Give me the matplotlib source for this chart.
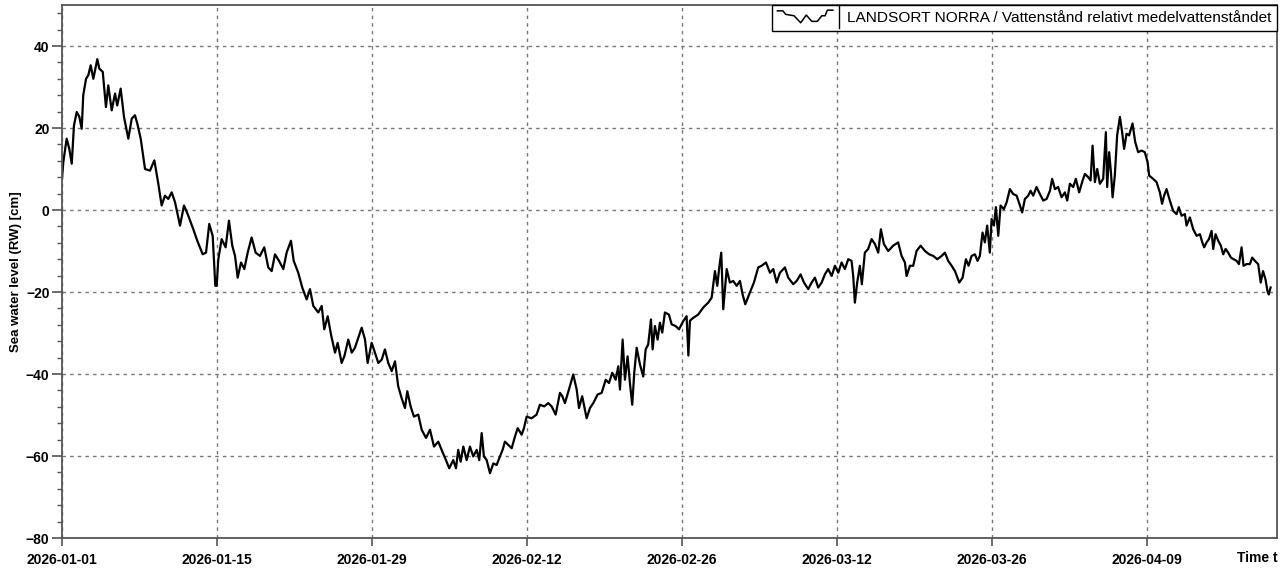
import numpy as np
import pandas as pd
import matplotlib
matplotlib.use("Agg")
import matplotlib.pyplot as plt
import matplotlib.dates as mdates
from matplotlib.lines import Line2D
from matplotlib.legend_handler import HandlerBase

plt.rcParams['font.family'] = ['Liberation Sans', 'DejaVu Sans']

# days since 2026-01-01 00:00 and sea level [cm]
day_offset = [
    0.00, 0.12, 0.42, 0.66, 0.88, 1.08, 1.33, 1.56, 1.78, 1.92,
    2.17, 2.38, 2.59, 2.83, 3.19, 3.37, 3.68, 3.97, 4.18, 4.49,
    4.79, 4.99, 5.30, 5.60, 5.99, 6.30, 6.59, 6.80, 7.11, 7.50,
    7.95, 8.34, 8.70, 9.00, 9.30, 9.60, 9.91, 10.21, 10.66, 11.02,
    11.41, 11.86, 12.22, 12.71, 13.01, 13.30, 13.61, 13.85, 13.97, 14.12,
    14.42, 14.78, 15.08, 15.38, 15.63, 15.87, 16.17, 16.47, 16.77, 17.13,
    17.49, 17.88, 18.27, 18.63, 18.94, 19.24, 19.60, 19.99, 20.29, 20.68,
    20.93, 21.34, 21.70, 22.10, 22.40, 22.70, 23.15, 23.46, 23.69, 24.00,
    24.30, 24.66, 24.90, 25.26, 25.50, 25.86, 26.17, 26.46, 26.76, 27.07,
    27.37, 27.61, 27.97,
    28.27, 28.57, 28.88, 29.17, 29.47, 29.78, 30.08, 30.37, 30.68, 30.98,
    31.19, 31.49, 31.79, 32.18, 32.49, 32.88, 33.24, 33.60, 33.99, 34.29,
    34.68, 34.98, 35.34, 35.59, 35.79, 36.01, 36.25, 36.55, 36.85, 37.15,
    37.46, 37.69, 37.91, 38.11, 38.36, 38.66, 38.96, 39.26, 39.56, 39.80,
    40.01, 40.31, 40.62, 40.91, 41.16, 41.52, 41.73, 41.97,
    42.42, 42.87, 43.17, 43.56, 43.92, 44.23, 44.59, 44.98, 45.19, 45.43,
    45.79, 46.18, 46.49, 46.70, 46.99, 47.39, 47.69, 47.99, 48.38, 48.75,
    49.11, 49.41, 49.70, 50.01, 50.25, 50.40, 50.64, 50.85, 51.09, 51.30,
    51.51, 51.69, 51.91, 52.21, 52.50, 52.72, 52.95, 53.20, 53.35, 53.56,
    53.80, 54.01, 54.22, 54.46, 54.82, 55.07, 55.43, 55.73, 56.12, 56.42,
    56.58, 56.72, 57.02,
    57.47, 57.92, 58.37, 58.68, 58.98, 59.19, 59.37, 59.55, 59.73, 60.04,
    60.33, 60.63, 60.94, 61.24, 61.48, 61.72, 62.14, 62.50, 62.89, 63.20,
    63.59, 63.95, 64.25, 64.55, 64.85, 65.30, 65.60, 66.05, 66.36, 66.72,
    67.02, 67.41, 67.71, 68.01, 68.31, 68.62, 68.91, 69.21, 69.52, 69.82,
    70.12, 70.42, 70.72, 71.02, 71.32, 71.47, 71.62, 71.83, 72.07, 72.25,
    72.52, 72.82, 73.13, 73.43, 73.73, 73.97, 74.24, 74.63, 75.08, 75.53,
    75.84, 76.14, 76.29, 76.59, 76.89, 77.19, 77.56, 77.95, 78.33, 78.70,
    79.06, 79.46, 79.75, 80.05, 80.36, 80.66, 81.05, 81.35, 81.65, 81.89,
    82.16, 82.46, 82.70, 82.91, 83.15, 83.36, 83.57, 83.81,
    83.97, 84.18, 84.36, 84.57, 84.78, 85.08, 85.33, 85.62, 85.92, 86.23,
    86.53, 86.73, 86.98, 87.28, 87.49, 87.73, 88.03, 88.33, 88.63, 88.94,
    89.24, 89.44, 89.69, 89.98, 90.29, 90.59, 90.80, 91.04, 91.34, 91.58,
    91.88, 92.19, 92.40, 92.70, 92.91, 93.09, 93.30, 93.51, 93.75, 94.05,
    94.29, 94.41, 94.59, 94.75, 94.90, 95.10, 95.31, 95.56, 95.76, 95.94,
    96.16, 96.39, 96.70, 96.94, 97.21, 97.52, 97.81, 98.06, 98.20,
    98.56, 98.87, 99.17, 99.37, 99.55, 99.77, 100.07, 100.37, 100.68, 100.88,
    101.13, 101.43, 101.58, 101.88, 102.18, 102.49, 102.79, 103.00, 103.17, 103.39,
    103.60, 103.84, 103.99, 104.20, 104.44, 104.68, 104.89, 105.11, 105.34, 105.59,
    105.83, 106.10, 106.31, 106.55, 106.73, 107.00, 107.30, 107.51, 107.75, 108.05,
    108.28, 108.49, 108.71, 108.89, 109.01, 109.17,
]

water_level = [
    7.6, 11.7, 17.4, 14.9, 11.3, 20.6, 23.9, 22.8, 19.8, 28.0,
    32.0, 32.9, 35.3, 32.0, 36.8, 34.5, 33.7, 25.1, 30.4, 24.3,
    28.4, 25.5, 29.6, 22.7, 17.4, 22.3, 23.1, 21.1, 17.4, 10.0,
    9.6, 12.1, 6.4, 1.1, 3.5, 2.7, 4.3, 1.9, -3.8, 1.1,
    -1.4, -4.7, -7.5, -10.8, -10.4, -3.4, -6.3, -18.5, -18.5, -12.0,
    -7.1, -9.1, -2.6, -8.7, -11.2, -16.5, -12.8, -14.4, -10.4, -6.7,
    -10.4, -11.2, -9.1, -14.0, -14.9, -10.8, -12.4, -14.4, -10.4, -7.5,
    -12.4, -15.3, -18.9, -21.8, -19.3, -23.4, -25.0, -23.4, -29.1, -25.9,
    -30.4, -34.8, -32.4, -37.3, -35.7, -31.6, -34.8, -33.6, -31.2, -28.7,
    -31.6, -37.3, -32.4,
    -34.8, -37.3, -36.5, -34.0, -37.3, -39.3, -36.9, -43.0, -45.9, -48.3,
    -44.2, -47.9, -50.4, -49.9, -53.6, -55.6, -53.6, -57.7, -56.5, -58.5,
    -61.0, -63.0, -61.0, -63.0, -58.5, -61.4, -57.7, -61.0, -57.7, -60.1,
    -58.5, -61.0, -54.4, -60.1, -61.0, -64.2, -61.8, -62.2, -60.1, -58.5,
    -56.5, -57.3, -58.1, -55.3, -53.2, -54.8, -53.2, -50.4,
    -50.8, -49.9, -47.5, -47.9, -47.1, -47.9, -49.9, -44.6, -45.4, -47.1,
    -43.8, -40.1, -43.8, -48.3, -45.4, -50.8, -48.3, -47.1, -45.0, -44.6,
    -41.4, -42.2, -39.7, -41.4, -38.1, -43.8, -31.6, -41.4, -35.7, -42.2,
    -47.5, -39.7, -33.6, -37.7, -40.6, -34.0, -32.8, -26.7, -34.0, -28.3,
    -31.6, -27.5, -29.9, -25.0, -25.5, -27.9, -28.3, -29.1, -27.1, -25.9,
    -35.5, -27.0, -26.3,
    -25.5, -23.8, -22.6, -21.4, -14.9, -18.5, -14.0, -10.4, -24.2, -14.4,
    -17.7, -17.3, -18.5, -17.3, -20.6, -23.0, -20.1, -17.7, -14.0, -13.6,
    -12.8, -15.3, -14.4, -17.7, -15.3, -14.0, -16.5, -18.1, -17.3, -15.7,
    -17.7, -19.3, -17.7, -16.5, -18.9, -17.7, -15.7, -14.4, -16.1, -13.6,
    -15.3, -12.8, -14.4, -12.0, -12.4, -16.1, -22.6, -17.7, -13.6, -18.1,
    -10.4, -9.5, -7.1, -8.3, -10.4, -4.7, -8.3, -10.0, -8.7, -7.9,
    -11.2, -12.8, -16.1, -13.6, -13.6, -10.0, -8.7, -10.0, -10.8, -11.2,
    -12.0, -11.2, -10.4, -12.4, -13.6, -14.9, -17.7, -16.5, -12.0, -13.6,
    -11.2, -10.8, -12.4, -11.2, -5.5, -7.9, -3.8, -10.4,
    -2.2, -3.8, 0.7, -6.3, 1.1, 0.2, 1.9, 5.1, 3.9, 3.5,
    1.1, -0.6, 2.7, 3.5, 4.7, 3.5, 5.6, 3.9, 2.3, 2.7,
    4.7, 7.6, 5.1, 5.6, 3.1, 4.3, 2.3, 6.4, 5.6, 7.6,
    4.3, 7.2, 8.8, 8.0, 7.2, 15.7, 6.8, 10.0, 6.4, 7.6,
    19.0, 5.6, 14.1, 9.2, 3.1, 8.4, 18.2, 22.7, 19.0, 14.9,
    18.6, 18.2, 21.1, 16.6, 14.1, 14.5, 14.1, 11.7, 8.4,
    7.6, 6.8, 4.3, 1.5, 3.5, 5.1, 2.3, -0.2, -1.0, 0.7,
    -1.4, -1.0, -3.8, -1.8, -4.7, -6.3, -5.9, -7.9, -9.1, -7.9,
    -7.1, -5.1, -9.5, -5.9, -7.5, -8.7, -10.8, -9.5, -10.4, -11.6,
    -12.0, -12.4, -13.2, -9.1, -13.6, -13.2, -13.2, -11.6, -12.4, -13.2,
    -17.7, -14.9, -16.9, -19.8, -20.6, -18.9,
]

tick_days = [0, 14, 28, 42, 56, 70, 84, 98]
series_name = "LANDSORT NORRA / Vattenstånd relativt medelvattenståndet"

start = pd.Timestamp("2026-01-01")
times = start + pd.to_timedelta(np.array(day_offset), unit="D")
tick_times = [start + pd.Timedelta(days=d) for d in tick_days]
x_end = start + pd.Timedelta(days=109.75)


class StairHandler(HandlerBase):
    # little zigzag symbol + divider like the original legend
    def create_artists(self, legend, orig_handle, xdescent, ydescent,
                       width, height, fontsize, trans):
        fx = np.array([0, .1, .15, .3, .42, .52, .62, .72, .8, .86, .9, 1.0])
        fy = np.array([.9, .9, .65, .55, .05, .6, .15, .15, .55, .55, .95, .95])
        zig = Line2D(fx * width - xdescent, fy * height * 1.3 - ydescent - 0.15 * height,
                     color="black", lw=1.1, transform=trans)
        pad = legend.borderpad * fontsize
        xd = width - xdescent + 0.45 * legend.handletextpad * fontsize
        div = Line2D([xd, xd], [-ydescent - pad, height - ydescent + pad],
                     color="black", lw=1.0, transform=trans)
        div.set_clip_on(False)
        return [zig, div]


fig = plt.figure(figsize=(12.84, 5.79), dpi=100)
ax = fig.add_axes([62 / 1284, 41 / 579, 1215 / 1284, 533 / 579])

line, = ax.plot(times, water_level, color="black", lw=1.6)

ax.set_xlim(start, x_end)
ax.set_ylim(-80, 50)

ax.set_xticks(tick_times)
ax.xaxis.set_major_formatter(mdates.DateFormatter("%Y-%m-%d"))
ax.set_yticks([-80, -60, -40, -20, 0, 20, 40])
ax.set_yticks(np.arange(-80, 51, 4), minor=True)

for lab in ax.get_xticklabels() + ax.get_yticklabels():
    lab.set_fontweight("bold")
ax.tick_params(axis="x", length=6, width=1.2, color="#555555", labelsize=10, pad=5)
ax.tick_params(axis="y", which="major", length=7, width=1.2, color="#555555", labelsize=10, pad=2)
ax.tick_params(axis="y", which="minor", length=3.5, width=1.0, color="#555555")

ax.grid(True, which="major", color="#777777", linestyle=(0, (2.5, 3)), linewidth=1.0)
ax.set_axisbelow(True)

for s in ax.spines.values():
    s.set_color("#555555")
    s.set_linewidth(1.3)

ax.set_ylabel("Sea water level (RW) [cm]", fontweight="bold", fontsize=9.5, labelpad=3)
ax.text(0.984, -0.038, "Time t", transform=ax.transAxes, ha="center", va="center",
        fontweight="bold", fontsize=10)

leg = ax.legend([line], [series_name], loc="upper right", borderaxespad=0,
                handler_map={Line2D: StairHandler()}, fontsize=11.1,
                frameon=True, fancybox=False, edgecolor="black", framealpha=1,
                handlelength=3.6, handletextpad=0.9, borderpad=0.38)
leg.get_frame().set_linewidth(1.0)

fig.savefig("out.png", dpi=100)
